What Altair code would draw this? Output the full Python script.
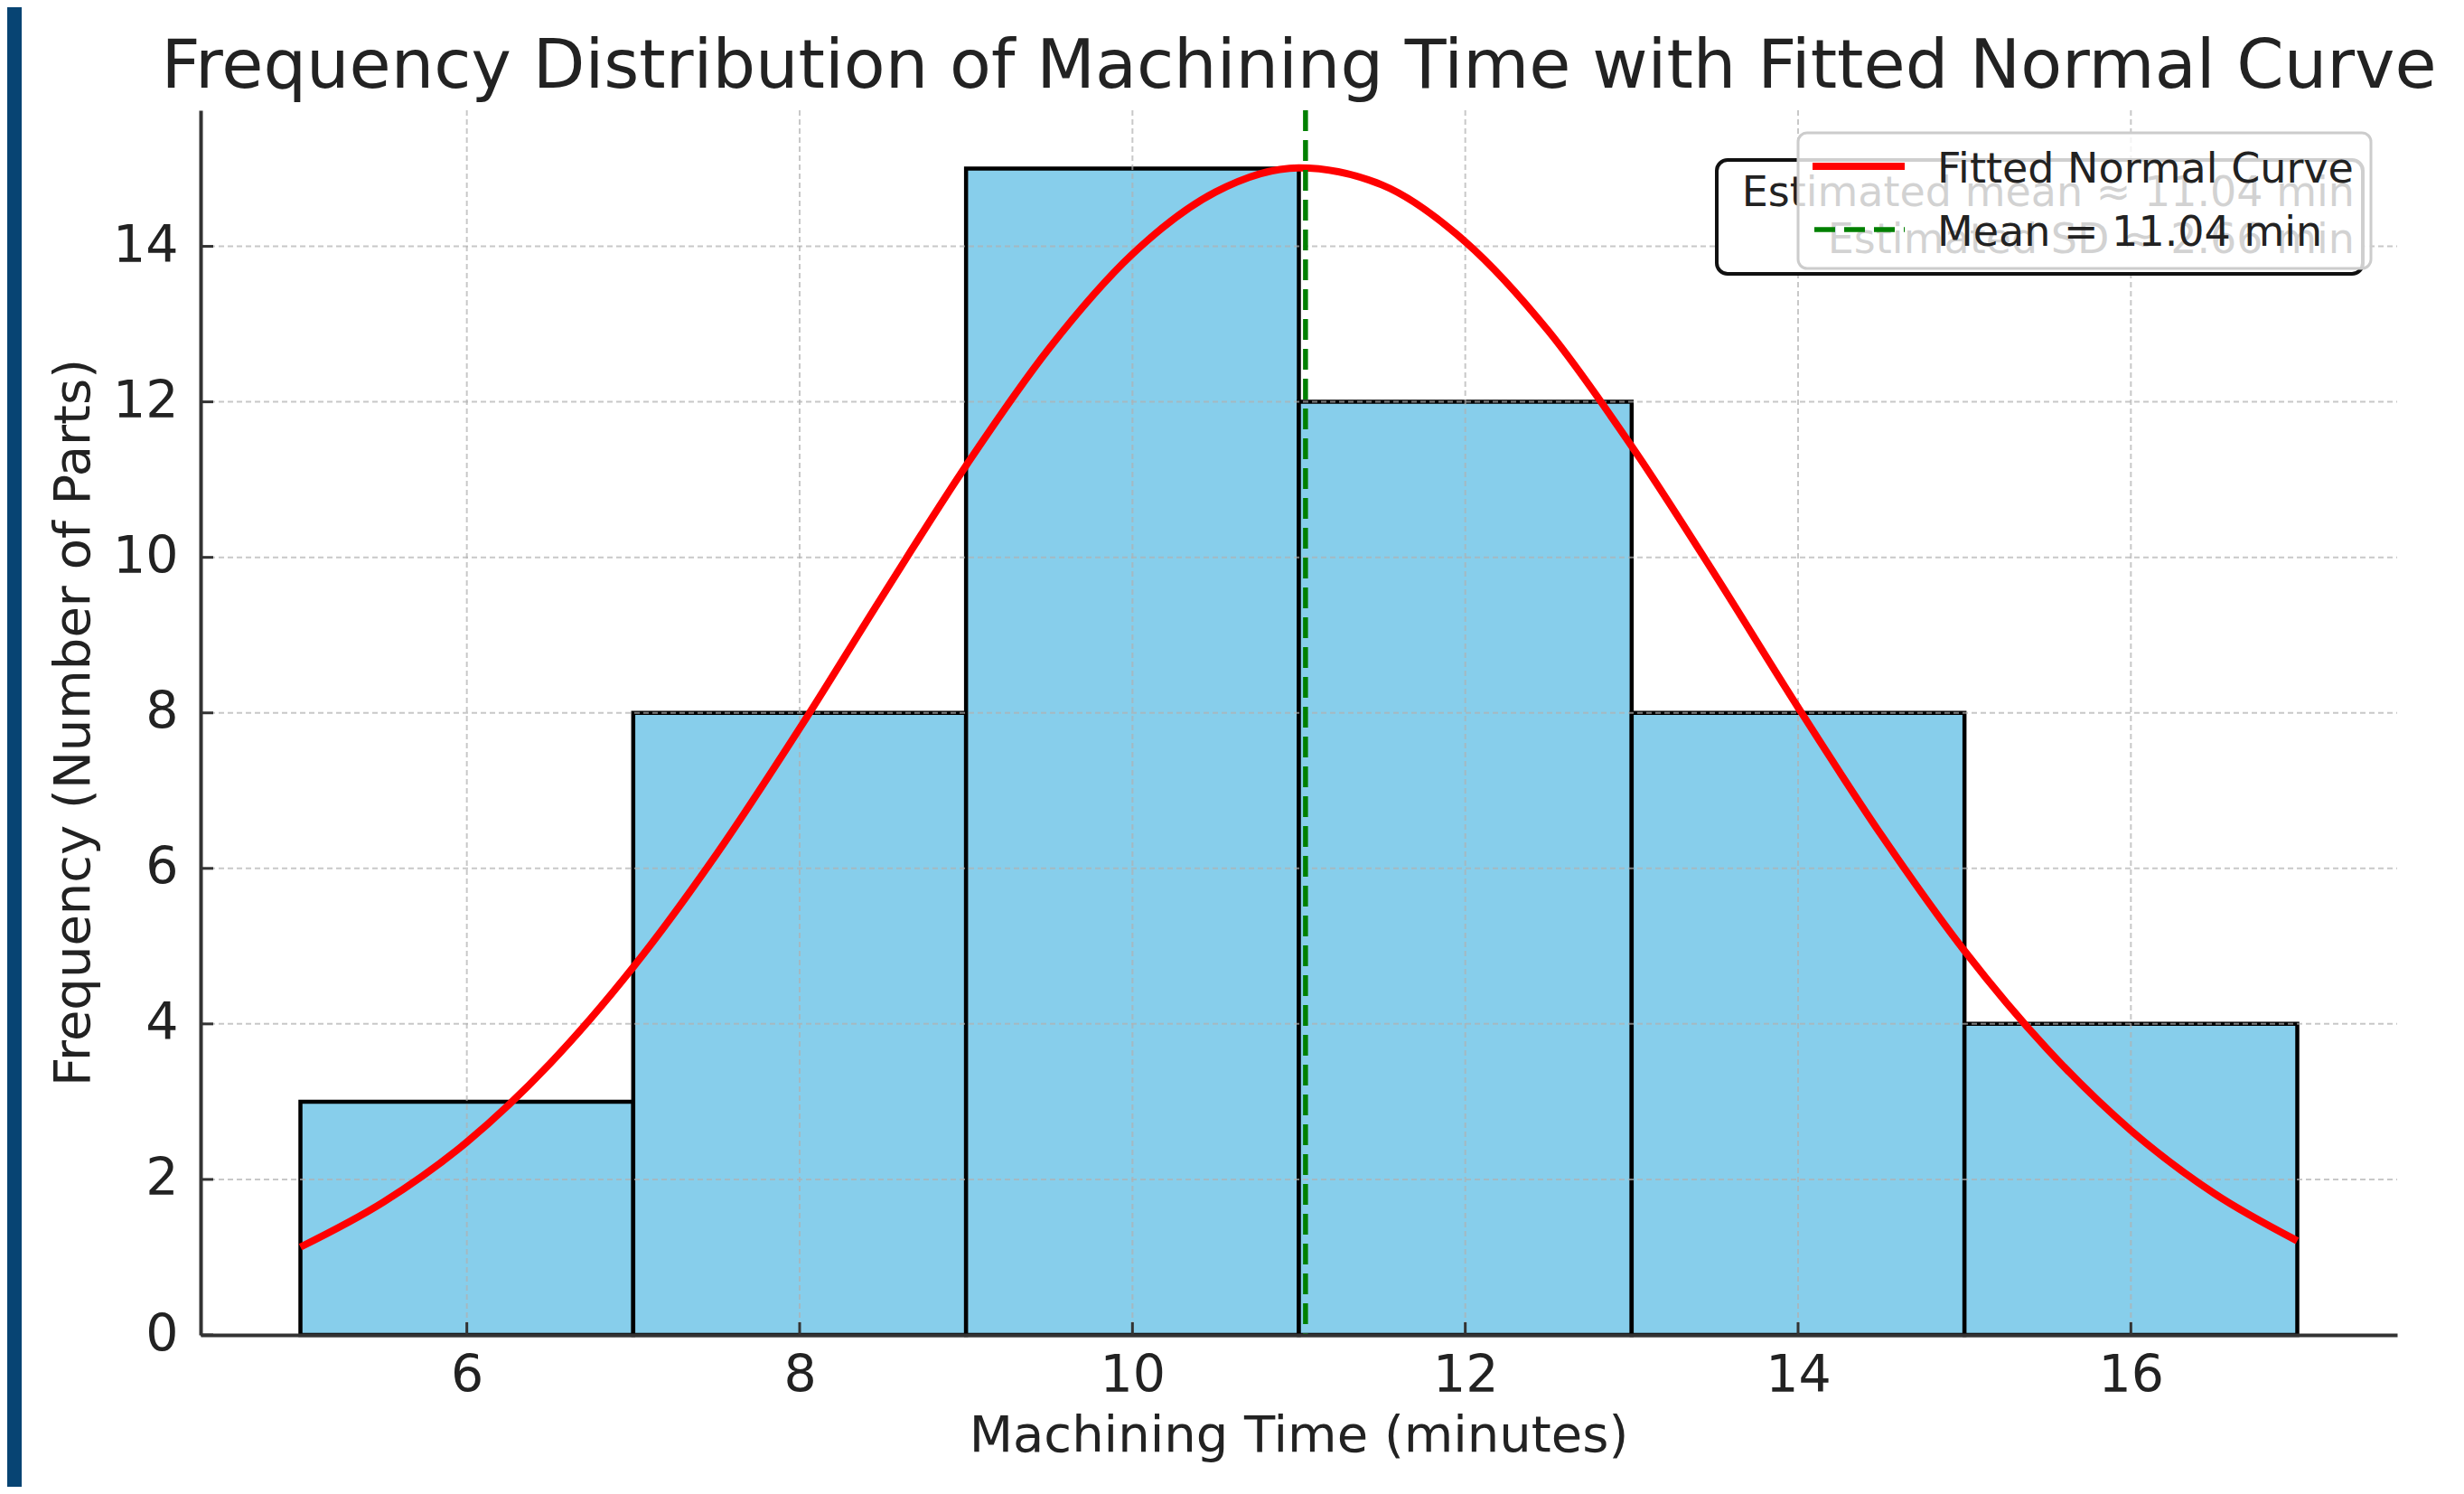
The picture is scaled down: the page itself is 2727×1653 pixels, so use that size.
import altair as alt
import pandas as pd

# ---- data ----
bin_starts = [5, 7, 9, 11, 13, 15]
bin_ends = [7, 9, 11, 13, 15, 17]
counts = [3, 8, 15, 12, 8, 4]

curve_x = [5.0, 5.5, 6.0, 6.5, 7.0, 7.5, 8.0, 8.5, 9.0, 9.5, 10.0, 10.5, 11.0,
           11.5, 12.0, 12.5, 13.0, 13.5, 14.0, 14.5, 15.0, 15.5, 16.0, 16.5, 17.0]
curve_y = [1.13, 1.71, 2.48, 3.49, 4.73, 6.18, 7.80, 9.51, 11.18, 12.69, 13.90, 14.70, 15.01,
           14.79, 14.06, 12.91, 11.43, 9.78, 8.07, 6.43, 4.94, 3.67, 2.63, 1.82, 1.21]

mean_value = [11.04]
x_ticks = [6, 8, 10, 12, 14, 16]
y_ticks = [0, 2, 4, 6, 8, 10, 12, 14]

title_text = "Frequency Distribution of Machining Time with Fitted Normal Curve"
x_title = "Machining Time (minutes)"
y_title = "Frequency (Number of Parts)"
legend_back = ["Estimated mean \u2248 11.04 min", "Estimated SD \u2248 2.66 min"]
legend_front = ["Fitted Normal Curve", "Mean = 11.04 min"]

# ---- tables ----
bars_df = pd.DataFrame({"start": bin_starts, "end": bin_ends, "count": counts})
bars_df["base"] = 0
curve_df = pd.DataFrame({"x": curve_x, "y": curve_y})
mean_df = pd.DataFrame({"mean": mean_value})
xt_df = pd.DataFrame({"xt": x_ticks})
yt_df = pd.DataFrame({"yt": y_ticks})
one = pd.DataFrame({"a": [0]})

W, H = 2431, 1355
FONT = "DejaVu Sans"
TXT = "#222222"

xscale = alt.Scale(domain=[4.4, 17.6], nice=False, zero=False)
yscale = alt.Scale(domain=[0, 15.75], nice=False)
xaxis = alt.Axis(values=x_ticks, title=None, grid=False, ticks=False, tickSize=0,
                 labelPadding=17, labelFontSize=57, labelFont=FONT, labelColor=TXT,
                 domainColor="#333333", domainWidth=4, zindex=1)
yaxis = alt.Axis(values=y_ticks, title=None, grid=False, ticks=False, tickSize=0,
                 labelPadding=25, labelFontSize=57, labelFont=FONT, labelColor=TXT,
                 domainColor="#333333", domainWidth=4, zindex=1)


def X(f):
    return alt.X(f, scale=xscale, axis=xaxis)


def Y(f):
    return alt.Y(f, scale=yscale, axis=yaxis)


# white figure background (navy frame shows around)
bg = alt.Chart(one).mark_rect(color="white").encode(
    x=alt.value(-198), x2=alt.value(2503), y=alt.value(-119), y2=alt.value(1600))

bars = alt.Chart(bars_df).mark_rect(
    color="#87CEEB", stroke="black", strokeWidth=4.5
).encode(x=X("start:Q"), x2="end:Q", y=Y("count:Q"), y2="base:Q")

grid_x = alt.Chart(xt_df).mark_rule(
    color="#b0b0b0", strokeWidth=2, strokeDash=[6, 4], opacity=0.7
).encode(x=X("xt:Q"), y=alt.value(0), y2=alt.value(H))

grid_y = alt.Chart(yt_df).mark_rule(
    color="#b0b0b0", strokeWidth=2, strokeDash=[6, 4], opacity=0.7
).encode(y=Y("yt:Q"), x=alt.value(0), x2=alt.value(W))

tick_x = alt.Chart(xt_df).mark_rule(color="#333333", strokeWidth=3).encode(
    x=X("xt:Q"), y=alt.value(H), y2=alt.value(H - 14))

tick_y = alt.Chart(yt_df).mark_rule(color="#333333", strokeWidth=3).encode(
    y=Y("yt:Q"), x=alt.value(0), x2=alt.value(14))

curve = alt.Chart(curve_df).mark_line(
    color="#ff0000", strokeWidth=8, interpolate="monotone"
).encode(x=X("x:Q"), y=Y("y:Q"))

mean_rule = alt.Chart(mean_df).mark_rule(
    color="#008000", strokeWidth=5.5, strokeDash=[23, 10]
).encode(x=X("mean:Q"), y=alt.value(0), y2=alt.value(H))

# back legend box (text right-aligned, mostly hidden under the front legend)
back_box = alt.Chart(one).mark_rect(
    fill="white", stroke="#111111", strokeWidth=4, cornerRadius=12
).encode(x=alt.value(1678), x2=alt.value(2393), y=alt.value(55), y2=alt.value(181))

back_t1 = alt.Chart(one).mark_text(
    text=legend_back[0], font=FONT, fontSize=46, color=TXT, align="right", baseline="alphabetic"
).encode(x=alt.value(2384), y=alt.value(106))
back_t2 = alt.Chart(one).mark_text(
    text=legend_back[1], font=FONT, fontSize=46, color=TXT, align="right", baseline="alphabetic"
).encode(x=alt.value(2384), y=alt.value(158))

# front legend
front_box = alt.Chart(one).mark_rect(
    fill="white", fillOpacity=0.8, stroke="#cccccc", strokeWidth=3, cornerRadius=10
).encode(x=alt.value(1768), x2=alt.value(2402), y=alt.value(25), y2=alt.value(175))

leg_red = alt.Chart(one).mark_rule(color="#ff0000", strokeWidth=8).encode(
    x=alt.value(1784), x2=alt.value(1886), y=alt.value(62))
leg_green = alt.Chart(one).mark_rule(color="#008000", strokeWidth=5.5, strokeDash=[23, 10]).encode(
    x=alt.value(1786), x2=alt.value(1886), y=alt.value(132))
front_t1 = alt.Chart(one).mark_text(
    text=legend_front[0], font=FONT, fontSize=46, color=TXT, align="left", baseline="alphabetic"
).encode(x=alt.value(1922), y=alt.value(80))
front_t2 = alt.Chart(one).mark_text(
    text=legend_front[1], font=FONT, fontSize=46, color=TXT, align="left", baseline="alphabetic"
).encode(x=alt.value(1922), y=alt.value(150))

# titles
title_mark = alt.Chart(one).mark_text(
    text=title_text, font=FONT, fontSize=75, color=TXT, align="center", baseline="alphabetic"
).encode(x=alt.value(W / 2), y=alt.value(-25))
xtitle_mark = alt.Chart(one).mark_text(
    text=x_title, font=FONT, fontSize=56, color=TXT, align="center", baseline="alphabetic"
).encode(x=alt.value(W / 2), y=alt.value(1484))
ytitle_mark = alt.Chart(one).mark_text(
    text=y_title, font=FONT, fontSize=56, color=TXT, align="center", baseline="middle", angle=270
).encode(x=alt.value(-140), y=alt.value(H / 2))

chart = alt.layer(
    bg, bars, grid_x, grid_y, tick_x, tick_y, curve, mean_rule,
    back_box, back_t1, back_t2, front_box, leg_red, leg_green, front_t1, front_t2,
    title_mark, xtitle_mark, ytitle_mark
).properties(
    width=W, height=H,
    padding={"left": 214, "top": 114, "right": 66, "bottom": 168},
    autosize=alt.AutoSizeParams(type="none"),
    background="#074473",
).configure_view(stroke=None)

chart.save("out.html", embed_options={"renderer": "svg", "actions": False})
